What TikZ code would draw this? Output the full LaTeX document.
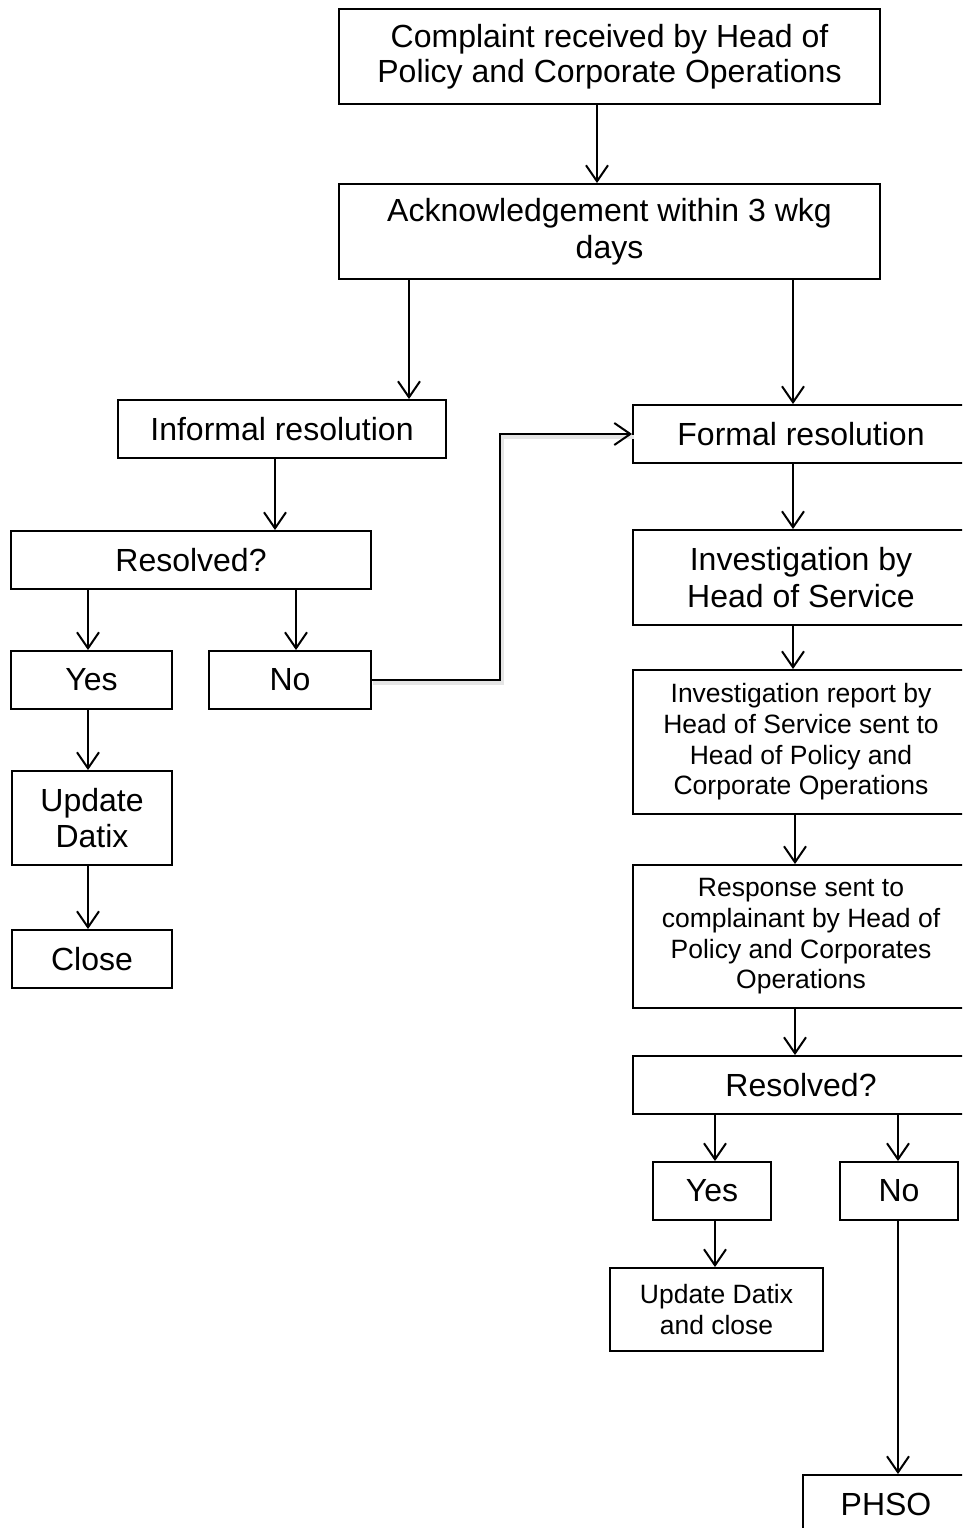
\documentclass[tikz,border=0pt]{standalone}
\usepackage{fontspec}
\setmainfont{Liberation Sans}
\usetikzlibrary{arrows.meta}

\newcommand{\bigtxt}{\fontsize{32}{36.5}\selectfont}
\newcommand{\toptxt}{\fontsize{32}{35}\selectfont}
\newcommand{\midtxt}{\fontsize{26.5}{30.7}\selectfont}

\begin{document}
\begin{tikzpicture}[x=1pt,y=-1pt,
  box/.style={draw, line width=1.9pt, inner sep=0pt, align=center, font=\bigtxt},
  flow/.style={-{Straight Barb[length=16pt,width=22pt,line width=2pt]}, line width=2.2pt}]
\useasboundingbox (0,0) rectangle (962,1528);
\clip (0,0) rectangle (962,1528);

% top
\node[box, font=\toptxt, minimum width=541pt, minimum height=95pt] (complaint) at (609.5,56.5) {Complaint received by Head of\\Policy and Corporate Operations};
\node[box, minimum width=541pt, minimum height=95pt] (ack) at (609.5,231.5) {Acknowledgement within 3 wkg\\days};

% informal side
\node[box, minimum width=328pt, minimum height=58pt] (informal) at (282,429) {Informal resolution};
\node[box, minimum width=360pt, minimum height=58pt] (resL) at (191,560) {Resolved?};
\node[box, minimum width=161pt, minimum height=58pt] (yesL) at (91.5,680) {Yes};
\node[box, minimum width=162pt, minimum height=58pt] (noL) at (290,680) {No};
\node[box, minimum width=160pt, minimum height=94pt] (updL) at (92,818) {Update\\Datix};
\node[box, minimum width=160pt, minimum height=58pt] (closeL) at (92,959) {Close};

% formal side
\node[box, minimum width=336pt, minimum height=58pt] (formal) at (801,434) {Formal resolution};
\node[box, minimum width=336pt, minimum height=95pt] (invest) at (801,577.5) {Investigation by\\Head of Service};
\node[box, font=\midtxt, minimum width=336pt, minimum height=144pt] (report) at (801,742) {Investigation report by\\Head of Service sent to\\Head of Policy and\\Corporate Operations};
\node[box, font=\midtxt, minimum width=336pt, minimum height=143pt] (response) at (801,936.5) {Response sent to\\complainant by Head of\\Policy and Corporates\\Operations};
\node[box, minimum width=336pt, minimum height=58pt] (resR) at (801,1085) {Resolved?};
\node[box, minimum width=118pt, minimum height=58pt] (yesR) at (712,1191) {Yes};
\node[box, minimum width=118pt, minimum height=58pt] (noR) at (899,1191) {No};
\node[box, font=\midtxt, minimum width=213pt, minimum height=83pt] (updR) at (716.5,1309.5) {Update Datix\\and close};
\node[box, minimum width=166pt, minimum height=58pt] (phso) at (886,1504) {PHSO};

% connectors
\draw[flow] (complaint.south -| 597,0) -- (ack.north -| 597,0);
\draw[flow] (ack.south -| 409,0) -- (informal.north -| 409,0);
\draw[flow] (ack.south -| 793,0) -- (formal.north -| 793,0);

\draw[flow] (informal.south -| 275,0) -- (resL.north -| 275,0);
\draw[flow] (resL.south -| 88,0) -- (yesL.north -| 88,0);
\draw[flow] (resL.south -| 296,0) -- (noL.north -| 296,0);
\draw[flow] (yesL.south -| 88,0) -- (updL.north -| 88,0);
\draw[flow] (updL.south -| 88,0) -- (closeL.north -| 88,0);

% No -> Formal, with its shadow
\draw[black!10, line width=4pt, transform canvas={xshift=1.5pt,yshift=-2.5pt}] (noL.east) -- (noL.east -| 500,0) |- (formal.west);
\draw[flow] (noL.east) -- (noL.east -| 500,0) |- (formal.west);

\draw[flow] (formal.south -| 793,0) -- (invest.north -| 793,0);
\draw[flow] (invest.south -| 793,0) -- (report.north -| 793,0);
\draw[flow] (report.south -| 795,0) -- (response.north -| 795,0);
\draw[flow] (response.south -| 795,0) -- (resR.north -| 795,0);
\draw[flow] (resR.south -| 715,0) -- (yesR.north -| 715,0);
\draw[flow] (resR.south -| 898,0) -- (noR.north -| 898,0);
\draw[flow] (yesR.south -| 715,0) -- (updR.north -| 715,0);
\draw[flow] (noR.south -| 898,0) -- (phso.north -| 898,0);
\end{tikzpicture}
\end{document}
